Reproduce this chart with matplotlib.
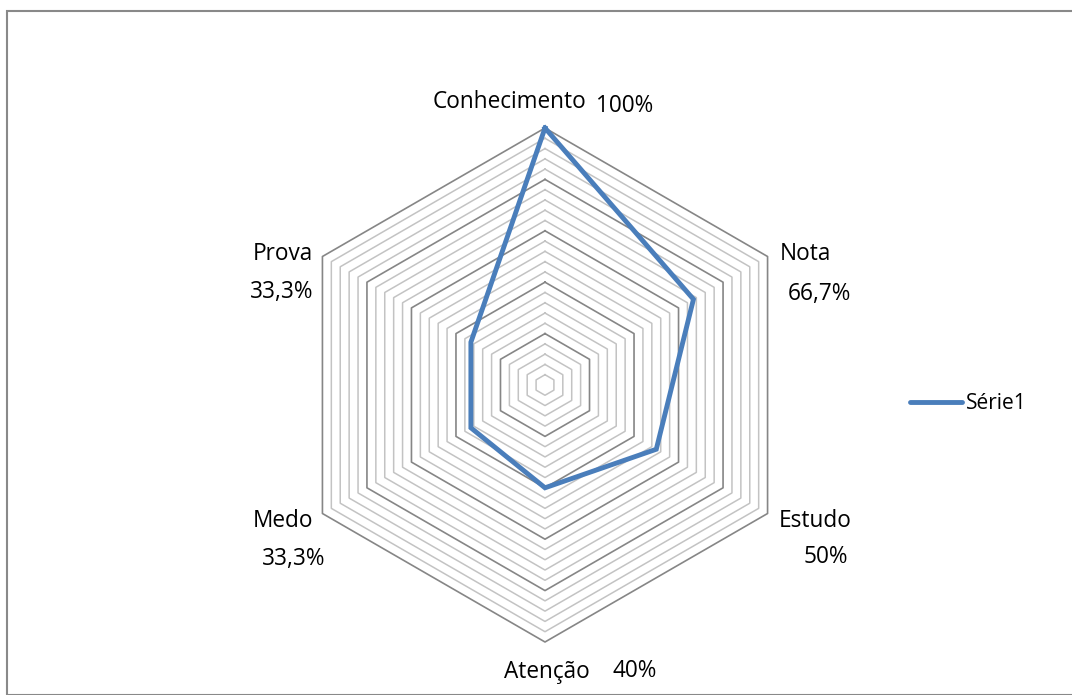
import numpy as np
import matplotlib.pyplot as plt
from matplotlib.patches import Rectangle

plt.rcParams['font.family'] = ['Open Sans', 'DejaVu Sans']

categorias = ["Conhecimento", "Nota", "Estudo", "Atenção", "Medo", "Prova"]
valores = [1.0, 0.667, 0.5, 0.4, 0.333, 0.333]
rotulos = ["100%", "66,7%", "50%", "40%", "33,3%", "33,3%"]
serie = "Série1"
aneis = np.arange(0.04, 1.0001, 0.04)

W, H = 1072, 695
cx, cy, R = 545, 385, 257

fig = plt.figure(figsize=(W / 100, H / 100), dpi=100)
fig.patches.append(Rectangle((7 / W, 0), 1.2, (H - 11) / H, transform=fig.transFigure,
                             fill=False, edgecolor="#898989", linewidth=1.5))

half = 300
ax = fig.add_axes([(cx - half) / W, (H - cy - half) / H, 2 * half / W, 2 * half / H])
ax.set_xlim(-half / R, half / R)
ax.set_ylim(-half / R, half / R)
ax.axis("off")

n = len(categorias)
ang = np.pi / 2 - np.arange(n) * 2 * np.pi / n
ang_c = np.append(ang, ang[0])

for i, r in enumerate(aneis):
    major = (i + 1) % 5 == 0
    ax.plot(r * np.cos(ang_c), r * np.sin(ang_c),
            color="#868686" if major else "#c3c3c3",
            lw=1.2 if major else 1.1, zorder=1)

v = np.append(valores, valores[0])
ax.plot(v * np.cos(ang_c), v * np.sin(ang_c), color="#4a7ebb", lw=3.5,
        solid_joinstyle="miter", zorder=3)


def px(x, y):
    return (x - cx) / R, (cy - y) / R


# posições dos rótulos (centro x, linha de base y, em pixels)
pos_cat = [(510, 108), (805, 260), (815, 527), (547, 678), (283, 527), (283, 260)]
pos_val = [(625, 112), (819, 300), (826, 563), (635, 677), (294, 565), (282, 298)]
for c, p in zip(categorias, pos_cat):
    ax.text(*px(*p), c, ha="center", va="baseline", fontsize=16.3, color="#000000")
for t, p in zip(rotulos, pos_val):
    ax.text(*px(*p), t, ha="center", va="baseline", fontsize=16.3, color="#000000")

# legenda
ax.plot([px(910, 0)[0], px(962, 0)[0]], [px(0, 402)[1]] * 2, color="#4a7ebb", lw=3.5,
        solid_capstyle="round", clip_on=False)
ax.text(*px(966, 409), serie, ha="left", va="baseline", fontsize=15, clip_on=False)

fig.savefig("out.png", dpi=100)
